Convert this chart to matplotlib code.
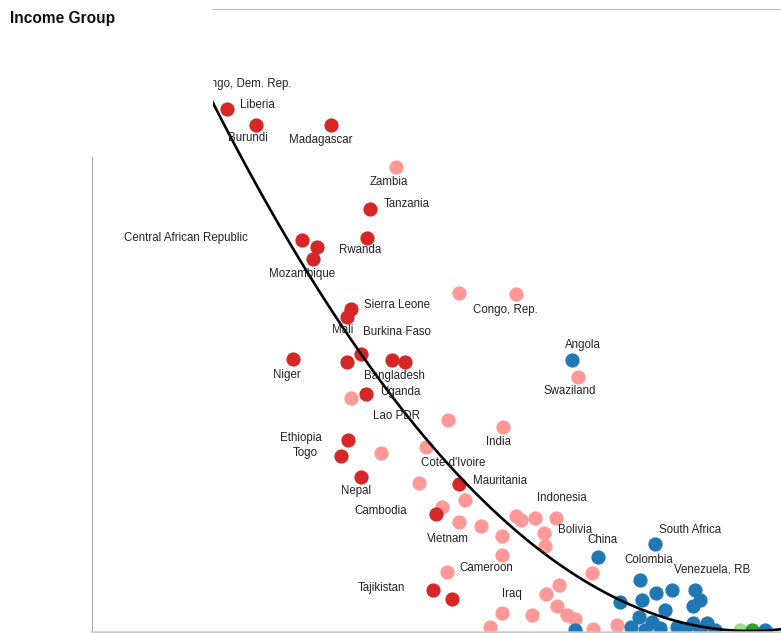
import numpy as np
import matplotlib
matplotlib.use("Agg")
import matplotlib.pyplot as plt
from matplotlib.patches import Rectangle

plt.rcParams['font.family'] = ['Liberation Sans', 'DejaVu Sans']

# ---------------- data (index units) ----------------
low_x = [135, 164, 239, 108, 278, 275, 210, 225, 221, 259, 255, 201, 255, 269, 300, 313,
         274, 256, 249, 269, 367, 344, 341, 360]
low_y = [523, 507, 507, 537, 423, 394, 392, 385, 373, 323, 315, 273, 270, 278, 272, 270,
         238, 192, 176, 155, 148, 118, 42, 33]

lower_mid_x = [304, 367, 424, 486, 259, 356, 411, 334, 289, 327, 373, 350, 367, 389, 410,
               424, 429, 443, 464, 452, 453, 410, 355, 500, 467, 454, 465, 475, 483, 410,
               440, 398, 501, 525]
lower_mid_y = [465, 339, 338, 255, 234, 212, 205, 185, 179, 149, 132, 125, 110, 106, 96,
               116, 112, 114, 114, 99, 86, 77, 60, 59, 47, 38, 26, 17, 13, 19,
               17, 5, 3, 7]

upper_mid_x = [480, 506, 563, 548, 564, 580, 603, 608, 601, 550, 528, 573, 547, 560, 539,
               568, 585, 601, 615, 483, 673, 553, 593, 608, 623]
upper_mid_y = [272, 75, 88, 52, 39, 42, 42, 32, 26, 32, 30, 22, 15, 10, 5,
               4, 5, 9, 9, 2, 2, 2, 2, 2, 2]

high_oecd_x = [648]
high_oecd_y = [2]
high_x = [660]
high_y = [2]

# quadratic trend line (vertex form): y = a*(x - h)^2 + k
trend_a, trend_h, trend_k = 0.001831, 658, 1

label_names = ["Congo, Dem. Rep.", "Liberia", "Burundi", "Madagascar", "Zambia", "Tanzania",
               "Central African Republic", "Rwanda", "Mozambique", "Sierra Leone", "Mali",
               "Burkina Faso", "Niger", "Bangladesh", "Uganda", "Lao PDR", "Congo, Rep.",
               "Angola", "Swaziland", "Ethiopia", "Togo", "Nepal", "Cambodia", "Vietnam",
               "India", "Cote d'Ivoire", "Mauritania", "Indonesia", "Bolivia", "Cameroon",
               "Iraq", "Tajikistan", "China", "South Africa", "Colombia", "Venezuela, RB"]
label_x = [104, 148, 136, 197, 278, 292, 32, 247, 177, 272, 240, 271, 181, 272, 288, 281, 381,
           473, 451, 188, 201, 249, 262, 335, 394, 329, 381, 445, 466, 367, 410, 266, 495,
           567, 532, 582]
label_y = [549, 528, 495, 493, 451, 429, 395, 383, 359, 328, 303, 301, 258, 257, 241, 217, 323,
           288, 242, 195, 180, 142, 122, 94, 191, 170, 152, 135, 103, 65, 39, 45, 93,
           103, 73, 63]

# ---------------- figure ----------------
W, H = 781, 633
fig = plt.figure(figsize=(W / 100, H / 100), dpi=100)
ax = fig.add_axes([92 / W, 1 / H, 1 - 92 / W, (632 - 9) / H])
ax.set_xlim(0, 689)
ax.set_ylim(0, 623)
ax.set_xticks([])
ax.set_yticks([])
for s in ax.spines.values():
    s.set_visible(False)
ax.spines['top'].set_visible(True)
ax.spines['top'].set_color('#bdbdbd')
ax.spines['top'].set_linewidth(0.8)
ax.spines['left'].set_visible(True)
ax.spines['left'].set_color('#aaaaaa')
ax.spines['left'].set_linewidth(0.8)
ax.spines['bottom'].set_visible(True)
ax.spines['bottom'].set_color('#cccccc')
ax.spines['bottom'].set_linewidth(1.8)
for s in ax.spines.values():
    s.set_zorder(5)

ms = 105
ax.scatter(lower_mid_x, lower_mid_y, s=ms, color='#ff9896', linewidths=0, zorder=2)
ax.scatter(low_x, low_y, s=ms, color='#d62728', linewidths=0, zorder=2)
ax.scatter(upper_mid_x, upper_mid_y, s=ms, color='#1f77b4', linewidths=0, zorder=2)
ax.scatter(high_oecd_x, high_oecd_y, s=ms, color='#98df8a', linewidths=0, zorder=2)
ax.scatter(high_x, high_y, s=ms, color='#2ca02c', linewidths=0, zorder=2)

xx = np.linspace(0, 700, 400)
yy = trend_a * (xx - trend_h) ** 2 + trend_k
ax.plot(xx, yy, color='black', lw=1.9, zorder=3)

for name, lx, ly in zip(label_names, label_x, label_y):
    ax.text(lx, ly - 0.8, name, fontsize=8.3, color='#222222', ha='left', va='center',
            clip_on=False, zorder=4)

# white title panel covering the top-left corner
fig.add_artist(Rectangle((0, 1 - 157 / H), 213 / W, 157 / H, transform=fig.transFigure,
                         facecolor='white', edgecolor='none', zorder=10))
fig.text(10 / W, 1 - 18 / H, "Income Group", fontsize=11.2, fontweight='bold',
         color='#111111', ha='left', va='center', zorder=11)

fig.savefig("out.png", dpi=100)
